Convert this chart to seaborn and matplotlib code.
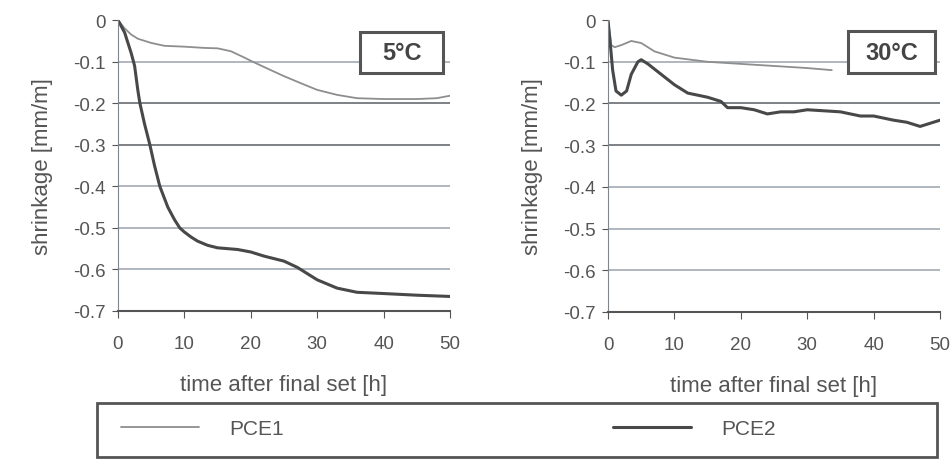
import pandas as pd
import seaborn as sns
import matplotlib.pyplot as plt
from matplotlib.patches import Rectangle

sns.set_style('white')
plt.rcParams['font.family'] = ['Liberation Sans', 'DejaVu Sans']

# 5°C panel
t5_pce1 = [0, 1, 2, 3, 5, 7, 10, 13, 15, 17, 19, 20, 22, 25, 28, 30, 33, 36, 40, 45, 48, 50]
s5_pce1 = [0, -0.02, -0.035, -0.045, -0.055, -0.062, -0.064, -0.067, -0.068, -0.075, -0.09, -0.098,
           -0.113, -0.135, -0.155, -0.168, -0.18, -0.188, -0.19, -0.19, -0.188, -0.182]
t5_pce2 = [0, 1, 2, 2.5, 3, 3.3, 4, 4.8, 5.5, 6.3, 7.5, 8.5, 9.3, 10, 11, 12, 13.5, 15, 18, 20, 22,
           25, 27, 30, 33, 36, 40, 45, 50]
s5_pce2 = [0, -0.03, -0.08, -0.11, -0.17, -0.2, -0.25, -0.3, -0.35, -0.4, -0.45, -0.48, -0.5, -0.51,
           -0.522, -0.532, -0.542, -0.548, -0.552, -0.558, -0.568, -0.58, -0.595, -0.625, -0.645,
           -0.655, -0.658, -0.662, -0.665]

# 30°C panel
t30_pce1 = [0, 0.5, 1, 2, 3.5, 5, 7, 10, 15, 20, 25, 30, 33.7]
s30_pce1 = [0, -0.06, -0.065, -0.06, -0.05, -0.055, -0.075, -0.09, -0.1, -0.105, -0.11, -0.115, -0.12]
t30_pce2 = [0, 0.3, 0.7, 1.2, 2, 2.8, 3.5, 4.5, 5, 6, 8, 10, 12, 15, 17, 18, 20, 22, 24, 26, 28, 30,
            35, 38, 40, 43, 45, 47, 48, 50]
s30_pce2 = [0, -0.05, -0.12, -0.17, -0.18, -0.17, -0.13, -0.1, -0.095, -0.105, -0.13, -0.155, -0.175,
            -0.185, -0.195, -0.21, -0.21, -0.215, -0.225, -0.22, -0.22, -0.215, -0.22, -0.23, -0.23,
            -0.24, -0.245, -0.255, -0.25, -0.24]

panels = ['5°C', '30°C']
series = ['PCE1', 'PCE2']
yticks = [0, -0.1, -0.2, -0.3, -0.4, -0.5, -0.6, -0.7]
xticks = [0, 10, 20, 30, 40, 50]

rows = []
for panel, name, tt, ss in [('5°C', 'PCE1', t5_pce1, s5_pce1), ('5°C', 'PCE2', t5_pce2, s5_pce2),
                            ('30°C', 'PCE1', t30_pce1, s30_pce1), ('30°C', 'PCE2', t30_pce2, s30_pce2)]:
    for t, s in zip(tt, ss):
        rows.append({'panel': panel, 'mix': name, 'time': t, 'shrinkage': s})
df = pd.DataFrame(rows)

colors = {'PCE1': '#8e8e8e', 'PCE2': '#484848'}
widths = {'PCE1': 1.3, 'PCE2': 2.2}
txt = '#555555'
# scanned grid: some lines came out darker than others
grid_col = {-0.1: '#9aa3ae', -0.2: '#5a5f66', -0.3: '#5a5f66', -0.4: '#9aa3ae', -0.5: '#9aa3ae', -0.6: '#9aa3ae'}

fig = plt.figure(figsize=(9.53, 4.64), dpi=100)
axes = [fig.add_axes([0.1238, 0.3276, 0.3484, 0.627]),
        fig.add_axes([0.638, 0.3255, 0.3484, 0.629])]
boxes = [(0.729, 0.818, 0.25, 0.141), (0.723, 0.818, 0.262, 0.144)]

for ax, panel, box in zip(axes, panels, boxes):
    for y in yticks[1:-1]:
        ax.axhline(y, color=grid_col[y], lw=1.1, zorder=0)
    for name in series:
        sns.lineplot(data=df[(df.panel == panel) & (df.mix == name)], x='time', y='shrinkage',
                     color=colors[name], lw=widths[name], ax=ax, label=name, legend=False)
    ax.set_xlim(0, 50)
    ax.set_ylim(-0.7, 0)
    ax.set_xticks(xticks)
    ax.set_yticks(yticks)
    ax.set_yticklabels(['0'] + [f'{v:.1f}' for v in yticks[1:]])
    for sp in ['top', 'right']:
        ax.spines[sp].set_visible(False)
    ax.spines['left'].set_color('#7d8590')
    ax.spines['bottom'].set_color('#555555')
    ax.spines['bottom'].set_linewidth(1.5)
    ax.tick_params(axis='x', bottom=True, length=5, pad=12, labelsize=13.5, colors=txt)
    ax.tick_params(axis='y', left=True, length=4, pad=5, labelsize=13.5, colors=txt)
    ax.set_xlabel('time after final set [h]', fontsize=16, color=txt, labelpad=16)
    ax.set_ylabel('shrinkage [mm/m]', fontsize=16, color=txt, labelpad=14)
    bx, by, bw, bh = box
    ax.add_patch(Rectangle((bx, by), bw, bh, transform=ax.transAxes, fc='white', ec='#555555',
                           lw=2.2, zorder=5, clip_on=False))
    ax.text(bx + bw / 2, by + bh / 2, panel, transform=ax.transAxes, ha='center', va='center',
            fontsize=17, fontweight='bold', color='#444444', zorder=6)

# legend box at the bottom
fig.patches.append(Rectangle((0.1018, 0.0129), 0.8814, 0.1164, transform=fig.transFigure,
                             fill=False, ec='#555555', lw=2))
handles, labels = axes[0].get_legend_handles_labels()
fig.legend(handles, labels, loc='center left', bbox_to_anchor=(0.107, 0.0733), ncol=2,
           frameon=False, fontsize=15, handlelength=3.75, handletextpad=1.45,
           columnspacing=15.8, labelcolor=txt)

fig.savefig('out.png', dpi=100)
